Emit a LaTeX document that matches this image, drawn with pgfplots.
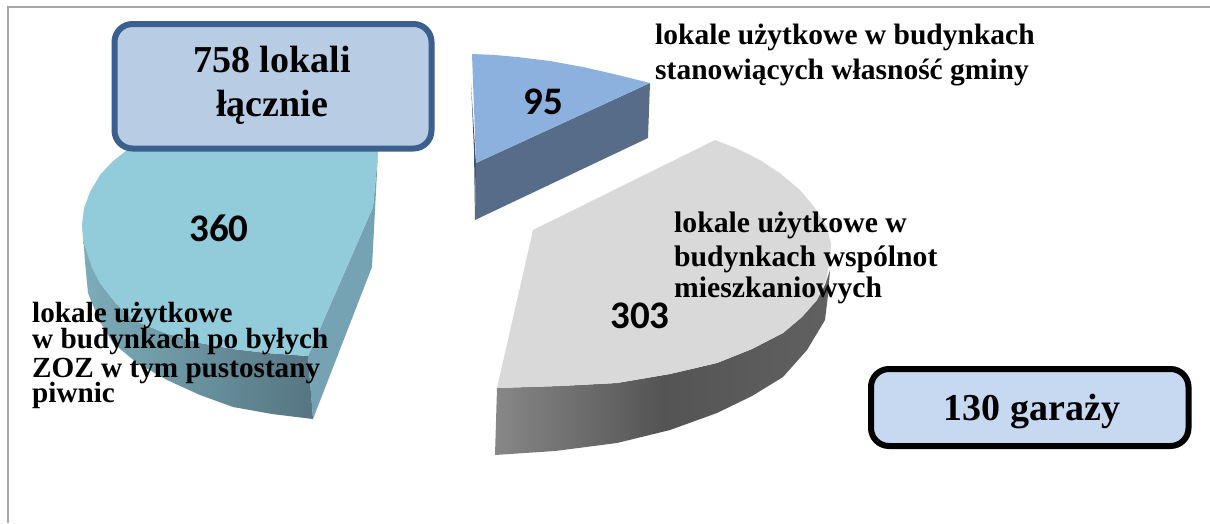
\documentclass[border=0pt]{standalone}
\usepackage{pgfplots}
\pgfplotsset{compat=1.18}
\usepackage{fontspec}
\setmainfont{Liberation Serif}
\newfontfamily\numfont{Carlito}
\definecolor{frameg}{HTML}{A6A6A6}
\definecolor{tealtop}{HTML}{92CBDA}
\definecolor{tealside}{HTML}{76A3B4}
\definecolor{bluetop}{HTML}{8CB1DE}
\definecolor{blueside}{HTML}{566C89}
\definecolor{graytop}{HTML}{D9D9D9}
\definecolor{boxa}{HTML}{B8CCE4}
\definecolor{boxaline}{HTML}{3B5F8E}
\definecolor{boxb}{HTML}{C6D9F1}
\newcommand{\lab}[4]{\node[anchor=base west,inner sep=0pt,font=\fontsize{#1}{#1}\selectfont\bfseries] at (axis cs:#2,#3) {#4};}
\newcommand{\cen}[4]{\node[anchor=base,inner sep=0pt,font=\fontsize{#1}{#1}\selectfont\bfseries] at (axis cs:#2,#3) {#4};}
\newcommand{\num}[4]{\node[anchor=base,inner sep=0pt,font=\fontsize{#1}{#1}\selectfont\numfont\bfseries] at (axis cs:#2,#3) {#4};}
\begin{document}
\begin{tikzpicture}
\begin{axis}[x=1pt,y=1pt,xmin=0,xmax=1210,ymin=0,ymax=523,y dir=reverse,hide axis,clip=true,
  scale only axis]
\path (axis cs:0,0) rectangle (axis cs:1210,523);
% frame
\addplot[frameg,line width=1.5pt] coordinates {(8,523) (8,7) (1210,7)};
% teal slice (360)
\addplot[draw=none,fill=tealside] coordinates {(308,356) (373,207) (378,153) (372,267) (313,419)} -- cycle;
\addplot[draw=none,shade,left color=tealtop!85!black,right color=tealside!72!black] coordinates {
 (83,233) (85,262) (88,293) (99,320) (113,343) (137,363) (167,380) (200,395) (233,407) (272,414) (313,419) (308,356) (267,353) (233,349) (200,343) (165,333) (133,320) (115,302) (100,283) (90,260)} -- cycle;
\addplot[draw=none,fill=tealtop] coordinates {
 (378,140) (135,140) (127,150) (112,162) (100,175) (90,192) (84,208) (82,225) (83,240) (87,253) (92,268) (100,283) (115,302) (133,320) (165,333) (200,343) (233,349) (267,353) (308,356) (373,207) (378,153)} -- cycle;
% blue slice (95)
\addplot[draw=none,fill=blueside] coordinates {(650,83) (476,163) (475,220) (648,138)} -- cycle;
\addplot[draw=none,fill=blueside!80!black] coordinates {(471,84) (476,163) (475,220) (474,150)} -- cycle;
\addplot[draw=none,fill=bluetop] coordinates {(472,54) (495,55) (517,57) (550,61) (583,67) (618,75) (650,83) (476,163)} -- cycle;
% grey slice (303)
\addplot[draw=none,shade,left color=black!47,right color=black!62,middle color=black!67] coordinates {
 (497,388) (560,386) (617,383) (670,374) (717,363) (752,349) (783,333) (802,317) (817,300) (825,285) (830,270) (828,295) (825,320) (807,350) (783,377) (752,396) (717,413) (670,430) (617,443) (555,451) (495,455)} -- cycle;
\addplot[draw=none,fill=graytop] coordinates {
 (715,140) (738,149) (760,160) (781,174) (800,190) (815,208) (827,227) (831,244) (830,260) (826,280) (817,300) (802,317) (783,333) (752,349) (717,363) (670,374) (617,383) (560,386) (497,388) (533,230)} -- cycle;
% values
\num{39}{219}{241}{360}
\num{39}{543}{114}{95}
\num{39}{640}{328}{303}
% labels
\lab{29.5}{655}{44}{lokale użytkowe w budynkach}
\lab{29.5}{655}{79}{stanowiących własność gminy}
\lab{29.7}{674}{232}{lokale użytkowe w}
\lab{29.7}{674}{266}{budynkach wspólnot}
\lab{29.7}{674}{297}{mieszkaniowych}
\lab{29.2}{32}{322}{lokale użytkowe}
\lab{29.2}{32}{348}{w budynkach po byłych}
\lab{29.2}{32}{377}{ZOZ w tym pustostany}
\lab{29.2}{32}{402}{piwnic}
% boxes
\draw[boxaline,fill=boxa,line width=6pt,rounded corners=18pt] (axis cs:114.5,24) rectangle (axis cs:431.5,148.5);
\draw[black,fill=boxb,line width=6pt,rounded corners=18pt] (axis cs:871,369) rectangle (axis cs:1188.5,446);
\cen{38}{272}{72}{758 lokali}
\cen{38}{272}{116}{łącznie}
\cen{38}{1032}{420}{130 garaży}
\end{axis}
\end{tikzpicture}
\end{document}
